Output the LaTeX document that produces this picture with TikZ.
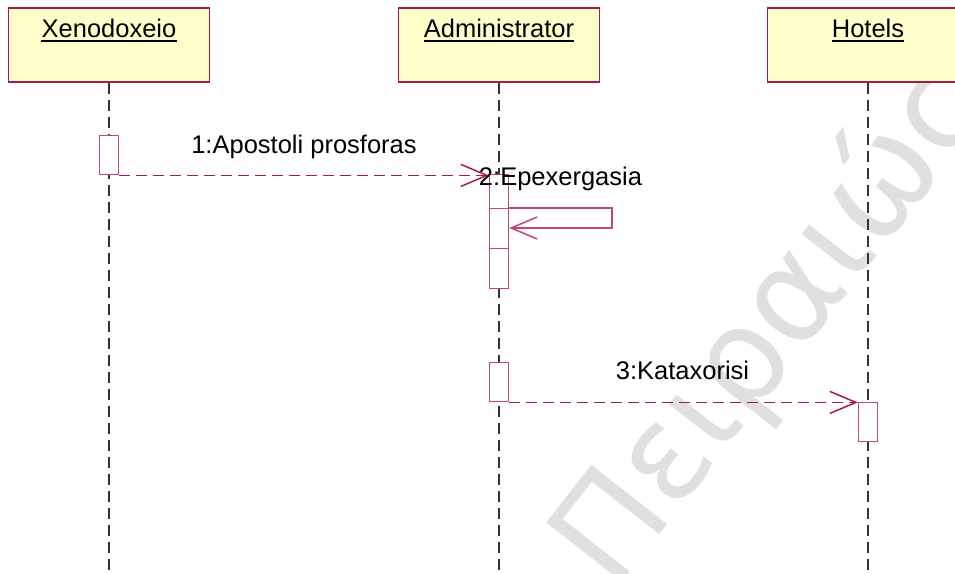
\documentclass[tikz,border=0pt]{standalone}
\usepackage{fontspec}
\setmainfont{Liberation Sans}
\newfontfamily\wmfont{DejaVu Sans}
\usetikzlibrary{arrows.meta}
\definecolor{umlred}{HTML}{A8184A}
\definecolor{actred}{HTML}{C04870}
\definecolor{umlfill}{HTML}{FFFFCC}
\definecolor{lifegray}{HTML}{333333}
\begin{document}
\begin{tikzpicture}[x=1pt,y=-1pt,
  font=\fontsize{25.5}{30}\selectfont,
  objbox/.style={draw=umlred, fill=umlfill, line width=1.5pt,
    minimum width=201pt, minimum height=74pt, inner sep=0pt, anchor=north},
  objname/.style={inner sep=0pt, anchor=base},
  actbox/.style={draw=actred, fill=white, line width=1.4pt,
    minimum width=19pt, inner sep=0pt, anchor=north},
  lifeline/.style={draw=lifegray, line width=1.4pt, dash pattern=on 11pt off 6pt},
  barb/.style={-{Straight Barb[length=26pt,width=22pt]}},
  asyncmsg/.style={draw=umlred, line width=1.5pt, dash pattern=on 11pt off 6pt, barb},
  selfmsg/.style={draw=actred, line width=1.5pt, barb},
  msglabel/.style={inner sep=0pt, anchor=base},
  watermark/.style={font=\wmfont\fontsize{132}{132}\selectfont, text=black!12,
    inner sep=0pt, anchor=base west, rotate=52}
]
\useasboundingbox (0,0) rectangle (955,573);
\clip (0,0) rectangle (955,573);

% background watermark
\node[watermark] (wm) at (614.6,592.3) {Πειραιώς};

% object boxes
\node[objbox] (xb) at (109,7) {};
\node[objbox] (ab) at (499,7) {};
\node[objbox] (hb) at (868,7) {};
\node[objname] (xn) at (109,37) {Xenodoxeio};
\node[objname] (an) at (499,37) {Administrator};
\node[objname] (hn) at (868,37) {Hotels};
\foreach \n in {xn,an,hn}
  \draw[line width=1.5pt] ([yshift=-4pt]\n.base west) -- ([yshift=-4pt]\n.base east);

% lifelines
\coordinate (xend) at (109,573);
\coordinate (aend) at (499,573);
\coordinate (hend) at (868,573);
\draw[lifeline] (xb.south) -- (xend);
\draw[lifeline] (ab.south) -- (aend);
\draw[lifeline] (hb.south) -- (hend);

% activations
\node[actbox, minimum height=39pt] (xa1) at (109,135) {};
\node[actbox, minimum height=114pt] (aa1) at (499,174) {};
\node[actbox, minimum height=40pt] (aa2) at (499,208) {};
\node[actbox, minimum height=39pt] (aa3) at (499,362) {};
\node[actbox, minimum height=39pt] (ha1) at (868,402) {};

% messages
\draw[asyncmsg] (xa1.south east) -- (xa1.south east -| aa1.west);
\coordinate (selfturn) at (612,228);
\draw[selfmsg] (aa2.north east) -| (selfturn) -- (selfturn -| aa2.east);
\draw[asyncmsg] (aa3.south east) -- (aa3.south east -| ha1.west);

% message labels
\node[msglabel] (m1) at (304,153) {1:Apostoli prosforas};
\node[msglabel] (m2) at (560.5,185) {2:Epexergasia};
\node[msglabel] (m3) at (682.5,379) {3:Kataxorisi};
\end{tikzpicture}
\end{document}
